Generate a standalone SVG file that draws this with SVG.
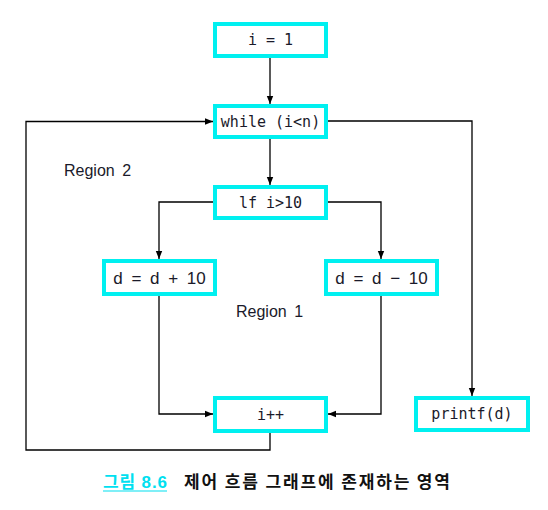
<svg xmlns="http://www.w3.org/2000/svg" width="548" height="510" viewBox="0 0 548 510">
<style>
.box{fill:#fff;stroke:#00f0f0;stroke-width:4}
.mono{font-family:"DejaVu Sans Mono","Liberation Mono",monospace;font-size:15px;fill:#1a1a2a;text-anchor:middle}
.sans{font-family:"Liberation Sans",Arial,sans-serif;font-size:17px;fill:#1a1a2a;text-anchor:middle;word-spacing:4px}
.lbl{font-family:"Liberation Sans",Arial,sans-serif;font-size:16px;fill:#1a1a2a;word-spacing:3px}
.edge{fill:none;stroke:#000;stroke-width:1.3}
</style>
<defs>
<marker id="ah" viewBox="0 0 10 10" refX="10" refY="5" markerWidth="10" markerHeight="8" markerUnits="userSpaceOnUse" orient="auto">
<path d="M0,1 L10,5 L0,9 Z" fill="#000"/>
</marker>
</defs>
<rect width="548" height="510" fill="#fff"/>
<g id="connectors">
<path class="edge" d="M270,57 V104" marker-end="url(#ah)"/>
<path class="edge" d="M270,139 V185" marker-end="url(#ah)"/>
<path class="edge" d="M328,121 H472 V396" marker-end="url(#ah)"/>
<path class="edge" d="M213,202 H159 V259" marker-end="url(#ah)"/>
<path class="edge" d="M327,202 H381 V259" marker-end="url(#ah)"/>
<path class="edge" d="M159,296 V414 H213" marker-end="url(#ah)"/>
<path class="edge" d="M381,296 V414 H328" marker-end="url(#ah)"/>
<path class="edge" d="M270,433 V450 H26 V121.5 H213" marker-end="url(#ah)"/>
</g>
<g id="n1"><rect class="box" x="215" y="24" width="111" height="32"/><text class="mono" x="270.5" y="45">i = 1</text></g>
<g id="n2"><rect class="box" x="215" y="106" width="111" height="31"/><text class="mono" x="270.5" y="127">while (i&lt;n)</text></g>
<g id="n3"><rect class="box" x="215" y="187" width="111" height="31"/><text class="mono" x="270.5" y="208">lf i&gt;10</text></g>
<g id="n4"><rect class="box" x="104" y="261" width="111" height="33"/><text class="sans" x="159.5" y="284">d = d + 10</text></g>
<g id="n5"><rect class="box" x="326" y="261" width="111" height="33"/><text class="sans" x="381.5" y="284">d = d − 10</text></g>
<g id="n6"><rect class="box" x="215" y="398" width="111" height="33"/><text class="mono" x="270.5" y="420">i++</text></g>
<g id="n7"><rect class="box" x="416" y="398" width="112" height="32"/><text class="mono" x="472" y="419">printf(d)</text></g>
<text class="lbl" x="64" y="176">Region 2</text>
<text class="lbl" x="236" y="317">Region 1</text>
<text x="103" y="488" font-family="Liberation Sans,Noto Sans CJK KR,sans-serif" font-size="17" font-weight="bold" fill="#00e0f0" textLength="64" lengthAdjust="spacing">그림 8.6</text>
<line x1="103" y1="491" x2="167" y2="491" stroke="#00e0f0" stroke-width="1.2"/>
<text x="184" y="488" font-family="Noto Sans CJK KR,sans-serif" font-size="17" font-weight="bold" fill="#111" textLength="266" lengthAdjust="spacing">제어 흐름 그래프에 존재하는 영역</text>
</svg>
